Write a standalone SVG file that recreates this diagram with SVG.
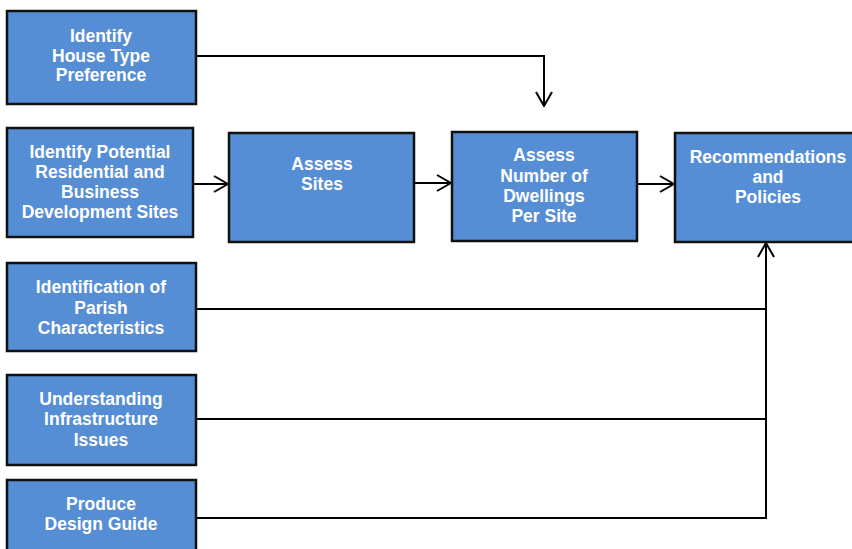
<svg xmlns="http://www.w3.org/2000/svg" width="852" height="549" viewBox="0 0 852 549">
<defs>
<style>
.box{fill:#558ED5;stroke:#111;stroke-width:2.5}
.t{font-family:"Liberation Sans",Arial,sans-serif;font-weight:bold;font-size:17.5px;fill:#fff;text-anchor:middle}
.c{fill:none;stroke:#000;stroke-width:2}
</style>
<marker id="arr" viewBox="0 0 16 18" refX="15" refY="9" markerWidth="16" markerHeight="18" markerUnits="userSpaceOnUse" orient="auto">
<path d="M1,1 L15,9 L1,17" fill="none" stroke="#000" stroke-width="2"/>
</marker>
</defs>
<rect width="852" height="549" fill="#fff"/>
<g id="connectors">
<path class="c" d="M196,56 H544 V106" marker-end="url(#arr)"/>
<path class="c" d="M193,184 H228" marker-end="url(#arr)"/>
<path class="c" d="M414,183 H451" marker-end="url(#arr)"/>
<path class="c" d="M637,184 H674" marker-end="url(#arr)"/>
<path class="c" d="M196,309 H766"/>
<path class="c" d="M196,419 H766"/>
<path class="c" d="M196,518 H766 V243" marker-end="url(#arr)"/>
</g>
<g id="n1"><rect class="box" x="7" y="11" width="189" height="93"/>
<text class="t"><tspan x="101" y="42">Identify</tspan><tspan x="101" y="61.5">House Type</tspan><tspan x="101" y="81">Preference</tspan></text></g>
<g id="n2"><rect class="box" x="7" y="128" width="186" height="109"/>
<text class="t"><tspan x="100" y="158">Identify Potential</tspan><tspan x="100" y="178">Residential and</tspan><tspan x="100" y="198">Business</tspan><tspan x="100" y="218">Development Sites</tspan></text></g>
<g id="n3"><rect class="box" x="229" y="133" width="185" height="109"/>
<text class="t"><tspan x="322" y="170">Assess</tspan><tspan x="322" y="190">Sites</tspan></text></g>
<g id="n4"><rect class="box" x="452" y="132" width="185" height="109"/>
<text class="t"><tspan x="544" y="161">Assess</tspan><tspan x="544" y="182">Number of</tspan><tspan x="544" y="202">Dwellings</tspan><tspan x="544" y="222">Per Site</tspan></text></g>
<g id="n5"><rect class="box" x="675" y="133" width="190" height="109"/>
<text class="t"><tspan x="768" y="163">Recommendations</tspan><tspan x="768" y="183">and</tspan><tspan x="768" y="203">Policies</tspan></text></g>
<g id="n6"><rect class="box" x="7" y="263" width="189" height="88"/>
<text class="t"><tspan x="101" y="293">Identification of</tspan><tspan x="101" y="314">Parish</tspan><tspan x="101" y="334">Characteristics</tspan></text></g>
<g id="n7"><rect class="box" x="7" y="375" width="189" height="90"/>
<text class="t"><tspan x="101" y="405">Understanding</tspan><tspan x="101" y="425">Infrastructure</tspan><tspan x="101" y="446">Issues</tspan></text></g>
<g id="n8"><rect class="box" x="7" y="480" width="189" height="80"/>
<text class="t"><tspan x="101" y="510">Produce</tspan><tspan x="101" y="530">Design Guide</tspan></text></g>
</svg>
